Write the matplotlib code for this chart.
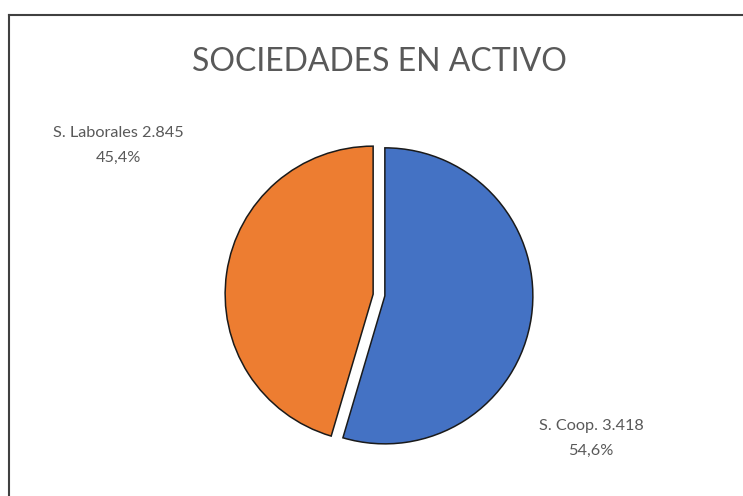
import matplotlib.pyplot as plt
from matplotlib.lines import Line2D

labels = ["S. Coop.", "S. Laborales"]
values = [3418, 2845]
colors = ["#4472C4", "#ED7D31"]
explode = [0.04, 0.04]

TEXT = "#595959"
FONT = "Lato"

W, H = 743, 496
fig = plt.figure(figsize=(W / 100, H / 100), dpi=100)

# chart frame (cut at right and bottom)
fig.add_artist(Line2D([9 / W, 1], [1 - 15 / H, 1 - 15 / H], color="#404040", lw=1.5, transform=fig.transFigure))
fig.add_artist(Line2D([9 / W, 9 / W], [0, 1 - 15 / H], color="#404040", lw=1.5, transform=fig.transFigure))

r_px = 148
cx, cy = 379, 295
lim = 1.3
size = 2 * lim * r_px
ax = fig.add_axes([(cx - size / 2) / W, (H - cy - size / 2) / H, size / W, size / H])
ax.pie(values, colors=colors, startangle=90, counterclock=False, explode=explode,
       wedgeprops=dict(edgecolor="#1a1a1a", linewidth=1.1))
ax.set_xlim(-lim, lim)
ax.set_ylim(-lim, lim)
ax.set_aspect("equal")
ax.axis("off")

total = sum(values)


def fmt(v):
    num = f"{v:,}".replace(",", ".")
    pct = f"{100 * v / total:.1f}".replace(".", ",")
    return num, pct


fs = 11.7
num, pct = fmt(values[1])
fig.text(118 / W, 1 - 133 / H, f"{labels[1]} {num}", ha="center", va="center", fontsize=fs, color=TEXT, family=FONT)
fig.text(118 / W, 1 - 158 / H, f"{pct}%", ha="center", va="center", fontsize=fs, color=TEXT, family=FONT)
num, pct = fmt(values[0])
fig.text(591 / W, 1 - 426 / H, f"{labels[0]} {num}", ha="center", va="center", fontsize=fs, color=TEXT, family=FONT)
fig.text(591 / W, 1 - 451 / H, f"{pct}%", ha="center", va="center", fontsize=fs, color=TEXT, family=FONT)

fig.text(379 / W, 1 - 62 / H, "SOCIEDADES EN ACTIVO", ha="center", va="center", fontsize=23, color=TEXT,
         family=FONT)

fig.savefig("out.png", dpi=100)
